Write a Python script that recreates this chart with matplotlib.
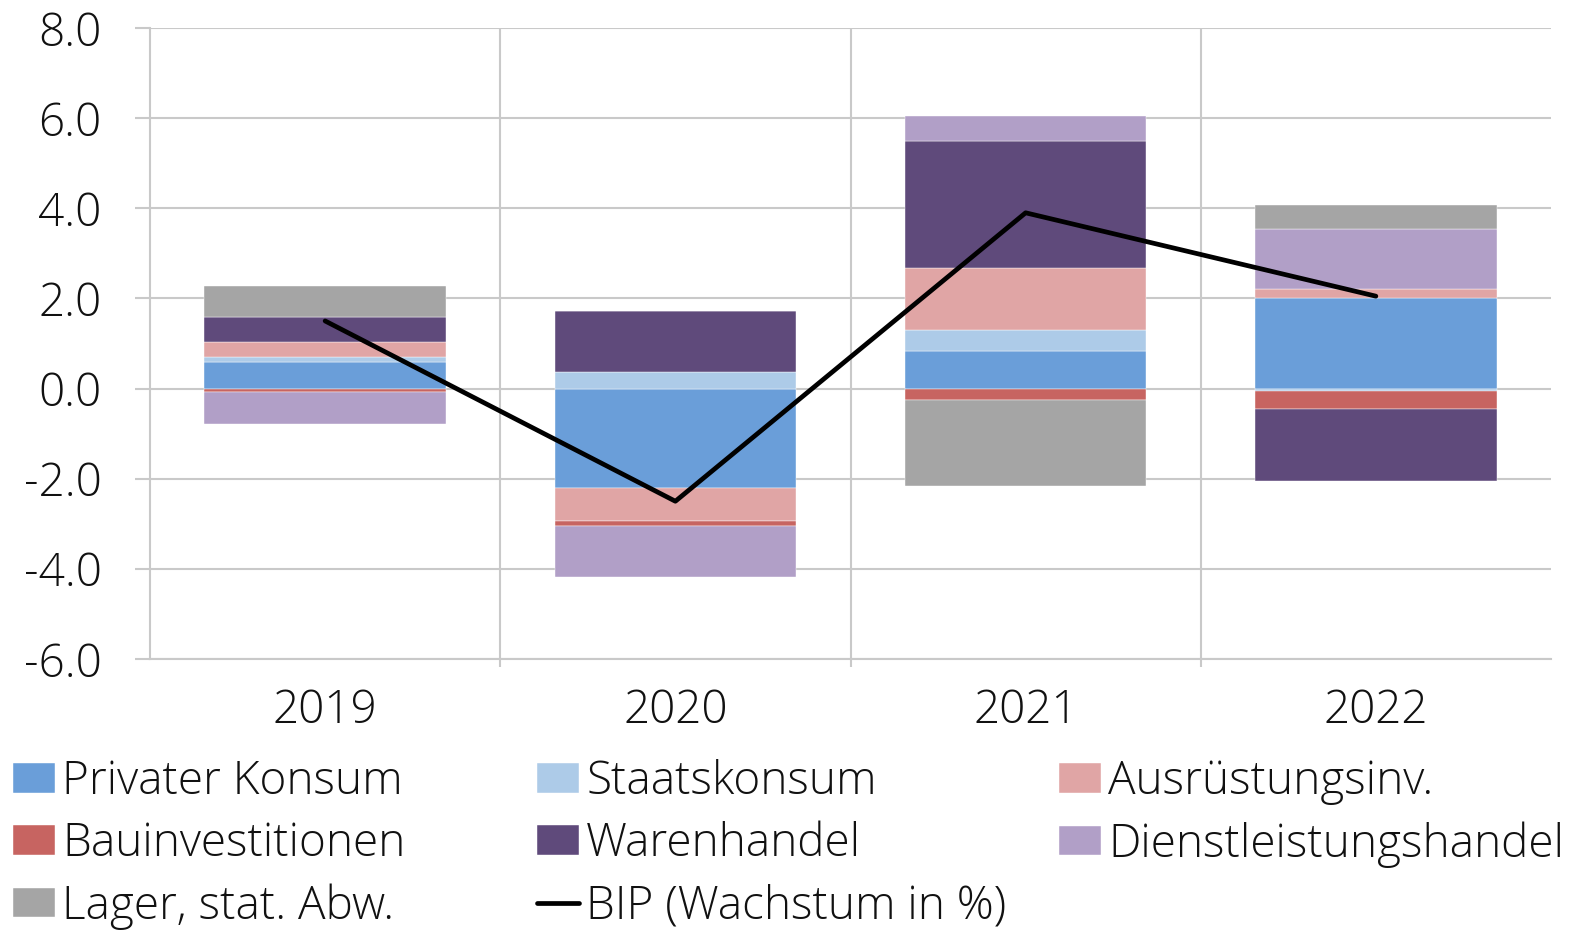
import numpy as np
import matplotlib.pyplot as plt
from matplotlib.ticker import FixedLocator, FormatStrFormatter

plt.rcParams['font.family'] = ['Open Sans', 'Lato', 'DejaVu Sans']
plt.rcParams['font.weight'] = 'light'

# data
years = ['2019', '2020', '2021', '2022']
privater_konsum = [0.60, -2.20, 0.84, 2.02]
staatskonsum = [0.11, 0.37, 0.46, -0.05]
ausruestung = [0.32, -0.74, 1.38, 0.18]
bau = [-0.08, -0.10, -0.25, -0.40]
warenhandel = [0.55, 1.34, 2.82, -1.61]
dienstleistung = [-0.71, -1.15, 0.55, 1.33]
lager = [0.70, 0.0, -1.92, 0.54]
bip = [1.5, -2.5, 3.9, 2.05]

series = [
    ('Privater Konsum', privater_konsum, '#6a9ed9'),
    ('Staatskonsum', staatskonsum, '#adcbe8'),
    ('Ausrüstungsinv.', ausruestung, '#e0a5a5'),
    ('Bauinvestitionen', bau, '#c76461'),
    ('Warenhandel', warenhandel, '#5f4a7b'),
    ('Dienstleistungshandel', dienstleistung, '#b19fc7'),
    ('Lager, stat. Abw.', lager, '#a5a5a5'),
]

fig = plt.figure(figsize=(15.7, 9.33), dpi=100)
ax = fig.add_axes([150 / 1570, 1 - 659 / 933, 1401 / 1570, 631 / 933])

x = np.arange(len(years))
pos = np.zeros(len(years))
neg = np.zeros(len(years))
handles = {}
for name, vals, col in series:
    v = np.array(vals)
    bottoms = np.where(v >= 0, pos, neg)
    b = ax.bar(x, v, 0.69, bottom=bottoms, color=col, edgecolor='white',
               linewidth=0.3, zorder=2)
    handles[name] = b
    pos = pos + np.where(v >= 0, v, 0)
    neg = neg + np.where(v < 0, v, 0)

ln, = ax.plot(x, bip, color='black', lw=3.4, zorder=3, solid_capstyle='round')
handles['BIP (Wachstum in %)'] = ln

ax.set_xlim(-0.5, 3.5)
ax.set_ylim(-6, 8)
ax.set_yticks(np.arange(-6, 9, 2))
ax.yaxis.set_major_formatter(FormatStrFormatter('%.1f'))
ax.set_xticks(x)
ax.set_xticklabels(years)
ax.xaxis.set_minor_locator(FixedLocator([0.5, 1.5, 2.5]))

grid_col = '#c9c9c9'
ax.grid(axis='y', color=grid_col, lw=1.5, zorder=0)
ax.grid(axis='x', which='minor', color=grid_col, lw=1.5, zorder=0)
ax.set_axisbelow(True)
for s in ['top', 'right']:
    ax.spines[s].set_visible(False)
for s in ['left', 'bottom']:
    ax.spines[s].set_color(grid_col)
    ax.spines[s].set_linewidth(1.5)

fs = 33
ax.tick_params(axis='y', length=11, width=1.5, color=grid_col, labelsize=fs,
               labelcolor='#111111', pad=24)
ax.tick_params(axis='x', which='major', length=0, labelsize=fs,
               labelcolor='#111111', pad=21)
ax.tick_params(axis='x', which='minor', length=6, width=1.5, color=grid_col)

columns = [
    (13, ['Privater Konsum', 'Bauinvestitionen', 'Lager, stat. Abw.']),
    (537, ['Staatskonsum', 'Warenhandel', 'BIP (Wachstum in %)']),
    (1059, ['Ausrüstungsinv.', 'Dienstleistungshandel']),
]
for xpix, names in columns:
    leg = fig.legend([handles[k] for k in names], names, loc='upper left',
                     bbox_to_anchor=(xpix / 1570, 1 - 759 / 933),
                     frameon=False, fontsize=fs, borderpad=0, borderaxespad=0,
                     handlelength=0.92, handleheight=0.61, handletextpad=0.15,
                     labelspacing=0.35, labelcolor='#111111')

fig.savefig('out.png', dpi=100)
